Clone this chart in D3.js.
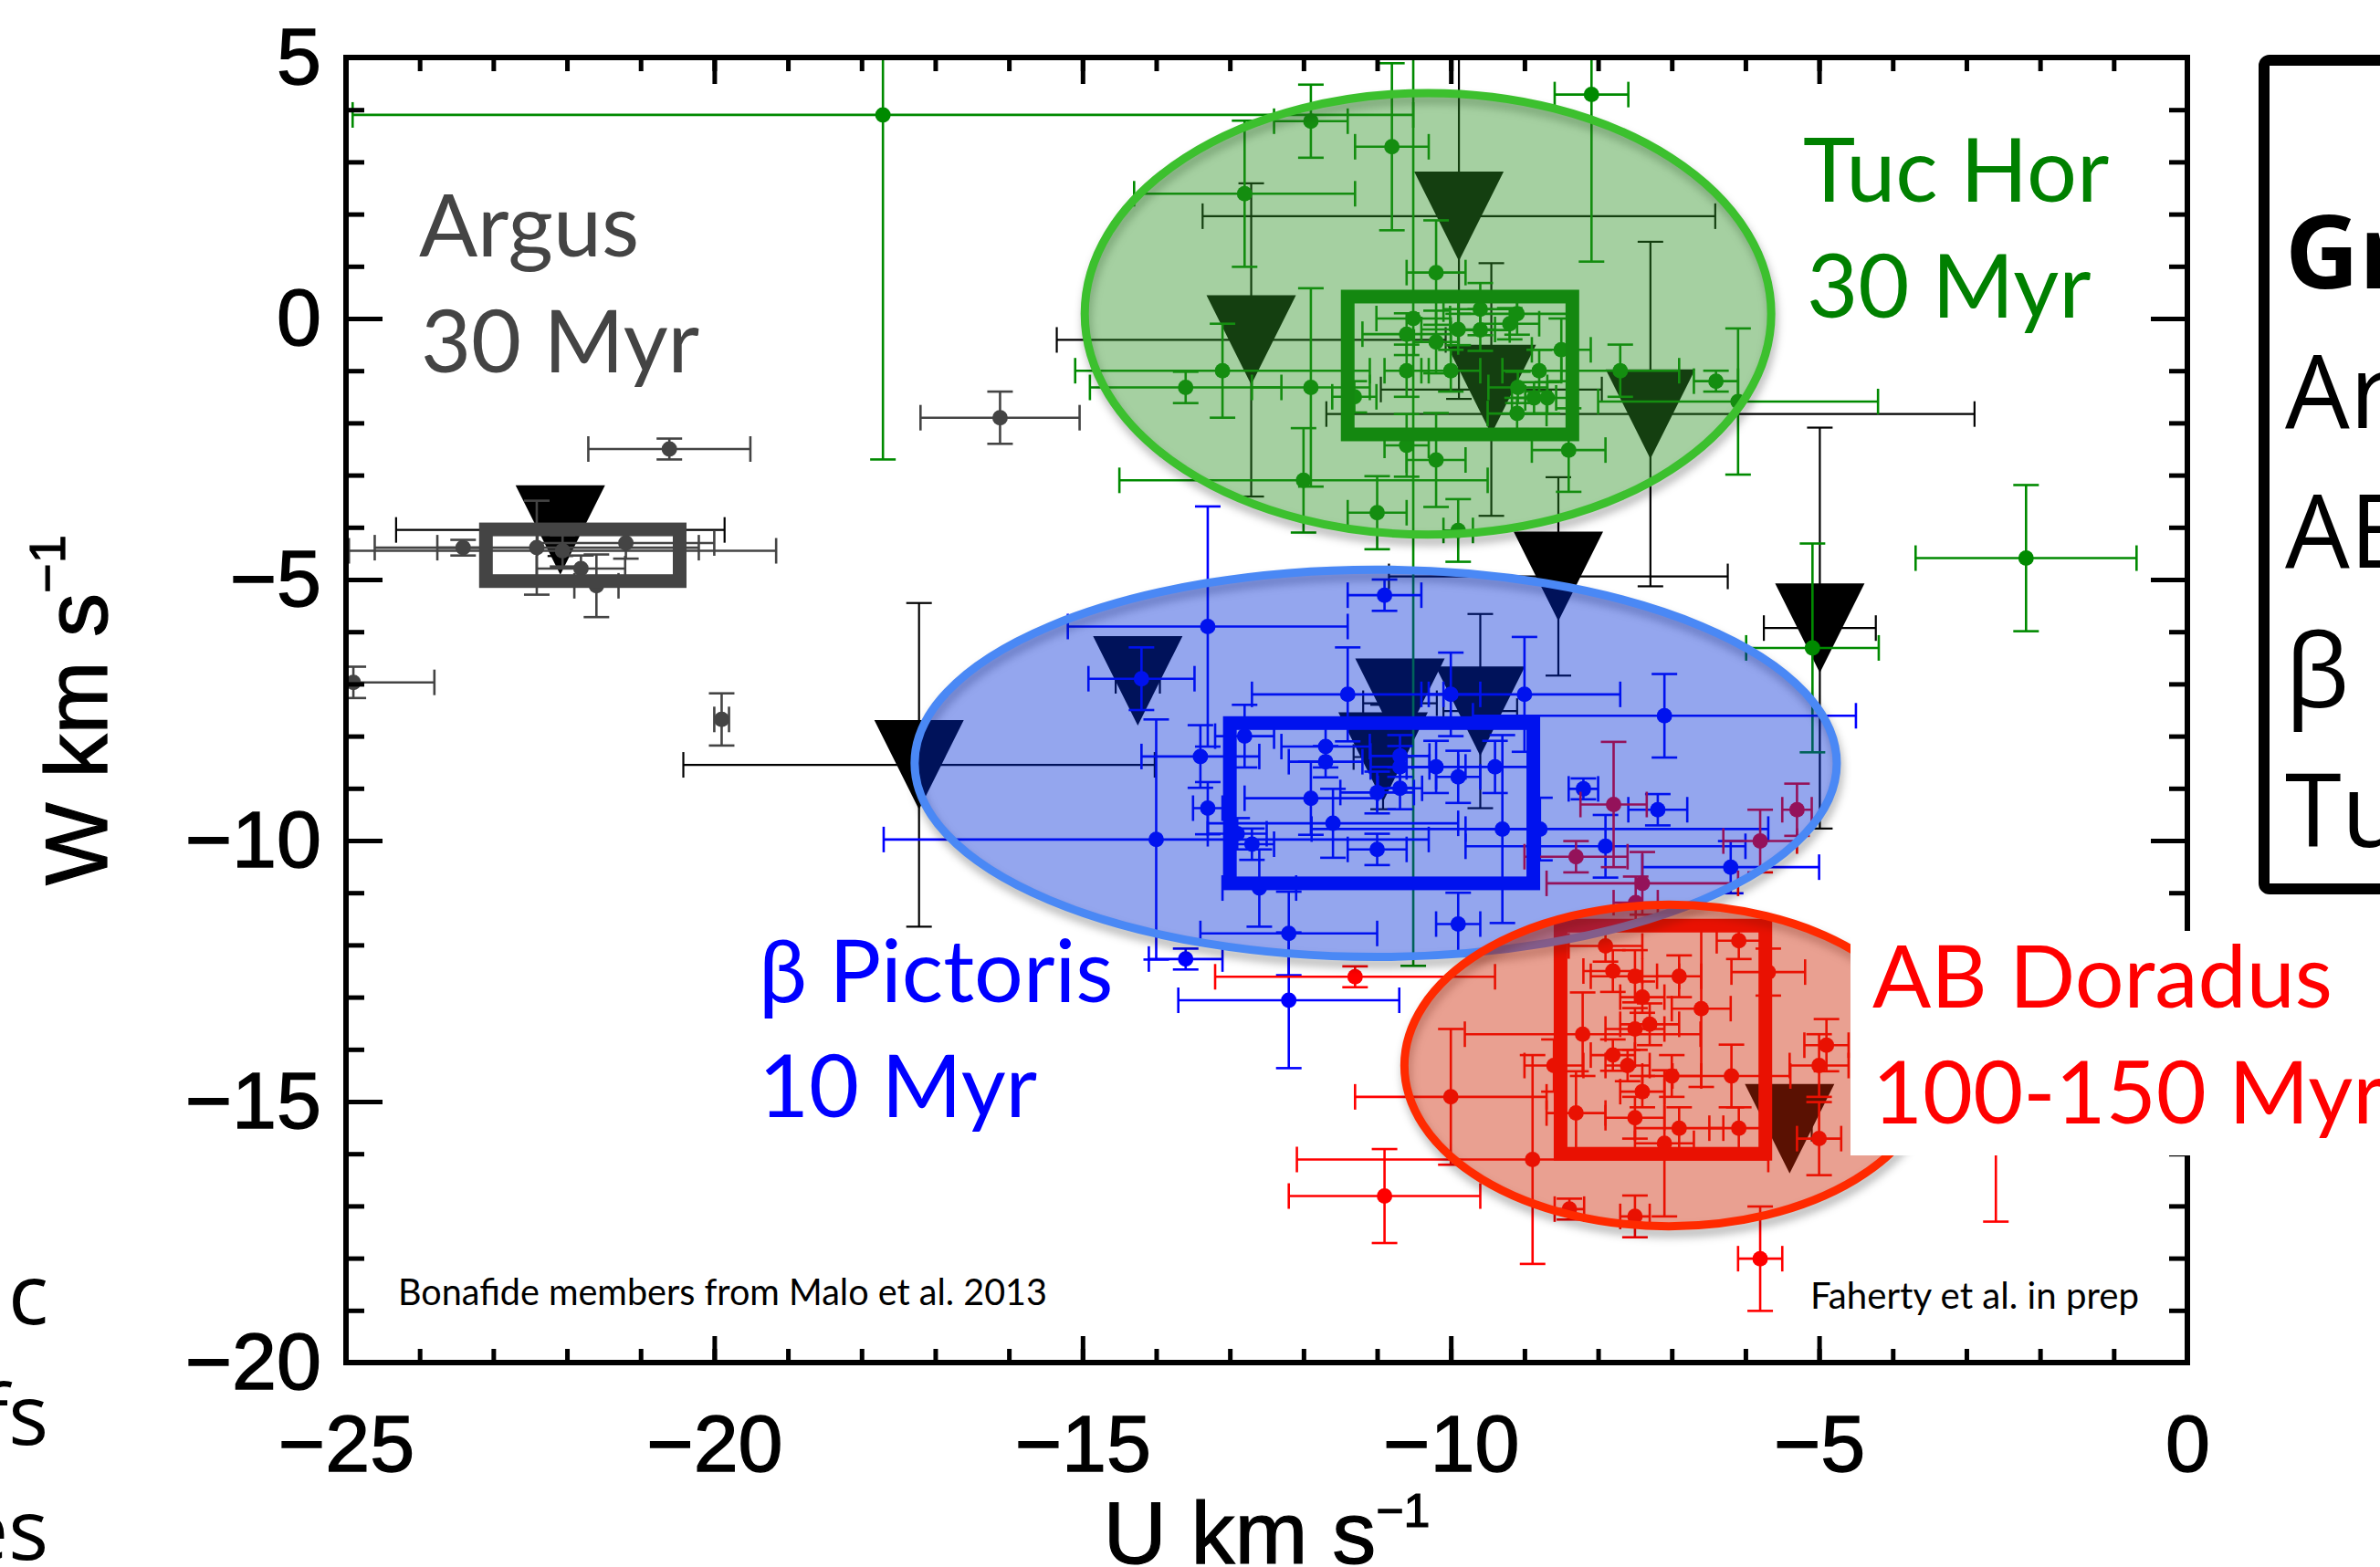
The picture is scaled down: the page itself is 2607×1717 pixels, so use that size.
<!DOCTYPE html>
<html>
<head>
<meta charset="utf-8">
<script src="https://cdn.jsdelivr.net/npm/d3@7"></script>
<style>
  html, body { margin: 0; padding: 0; background: #fff; overflow: hidden; }
  svg { display: block; }
</style>
</head>
<body>
<svg id="chart" width="2607" height="1717"></svg>
<script>
// Space velocities (U, W) of young moving-group members, km/s.
// Each row: [U, W, errU, errW]

const xDomain = [-25, 0];
const yDomain = [-20, 5];
const xMajorTicks = [-25, -20, -15, -10, -5, 0];
const xMinorTicks = [-25, -24, -23, -22, -21, -20, -19, -18, -17, -16, -15, -14, -13,
                     -12, -11, -10, -9, -8, -7, -6, -5, -4, -3, -2, -1, 0];
const yMajorTicks = [5, 0, -5, -10, -15, -20];
const yMinorTicks = [5, 4, 3, 2, 1, 0, -1, -2, -3, -4, -5, -6, -7, -8, -9, -10,
                     -11, -12, -13, -14, -15, -16, -17, -18, -19, -20];

// Argus bona fide members
const argusStars = [
  [-20.61, -2.50, 1.10, 0.20],
  [-23.41, -4.39, 0.35, 0.15],
  [-22.41, -4.39, 2.20, 0.90],
  [-22.06, -4.45, 2.90, 0.30],
  [-21.81, -4.79, 0.60, 0.25],
  [-21.60, -5.12, 0.30, 0.60],
  [-21.20, -4.30, 1.20, 0.30],
  [-24.90, -6.97, 1.10, 0.30],
  [-19.90, -7.68, 0.10, 0.50],
  [-16.12, -1.90, 1.08, 0.50]
];

// Tucana-Horologium bona fide members
const tucHorStars = [
  [-17.71, 3.90, 7.20, 6.60],
  [-8.09, 4.29, 0.50, 3.20],
  [-11.90, 3.78, 0.50, 0.70],
  [-10.80, 3.29, 0.50, 1.60],
  [-12.80, 2.39, 1.50, 1.40],
  [-10.20, 0.88, 0.40, 1.00],
  [-13.10, -1.00, 2.00, 0.90],
  [-13.60, -1.32, 1.30, 0.30],
  [-11.90, -1.32, 0.80, 1.90],
  [-12.00, -3.10, 2.50, 1.00],
  [-11.00, -3.72, 0.40, 0.70],
  [-10.20, -2.71, 0.40, 0.90],
  [-10.60, -2.43, 0.30, 0.60],
  [-8.40, -2.52, 0.50, 0.80],
  [-9.90, -4.06, 0.20, 0.60],
  [-6.40, -1.20, 0.30, 0.20],
  [-6.10, -1.59, 1.90, 1.40],
  [-7.70, -1.00, 0.80, 0.50],
  [-8.50, -0.60, 0.40, 0.60],
  [-8.80, -1.00, 0.50, 0.40],
  [-8.87, -1.52, 0.30, 0.30],
  [-8.69, -1.52, 0.30, 0.30],
  [-9.09, -1.32, 0.40, 0.30],
  [-9.10, 0.09, 0.80, 0.40],
  [-9.60, 0.18, 0.50, 0.50],
  [-9.60, -0.22, 0.40, 0.40],
  [-9.90, -0.21, 0.50, 0.30],
  [-9.20, -0.10, 0.40, 0.30],
  [-10.51, 0.00, 0.50, 12.40],
  [-10.60, -0.30, 0.60, 0.40],
  [-10.20, -0.45, 0.30, 0.60],
  [-10.60, -1.00, 0.30, 0.50],
  [-10.00, -1.00, 0.40, 0.40],
  [-11.31, -1.50, 0.30, 0.30],
  [-9.10, -1.82, 0.40, 0.30],
  [-2.19, -4.59, 1.50, 1.40],
  [-5.09, -6.31, 0.90, 2.00]
];

// beta Pictoris bona fide members
const betaPicStars = [
  [-10.90, -5.30, 0.50, 0.30],
  [-13.30, -5.90, 1.90, 2.30],
  [-14.20, -6.90, 0.72, 0.60],
  [-11.40, -7.20, 1.30, 0.90],
  [-10.00, -7.20, 0.40, 0.80],
  [-9.00, -7.20, 1.30, 1.10],
  [-12.80, -8.00, 0.40, 0.60],
  [-11.70, -8.20, 0.60, 0.40],
  [-11.70, -8.49, 0.50, 0.30],
  [-13.40, -8.39, 0.80, 0.60],
  [-10.69, -8.38, 0.40, 0.40],
  [-10.69, -8.59, 0.40, 0.40],
  [-10.20, -8.59, 0.40, 0.50],
  [-9.90, -8.78, 0.30, 0.50],
  [-9.40, -8.59, 0.50, 0.50],
  [-13.30, -9.38, 0.20, 0.50],
  [-11.90, -9.19, 0.90, 0.70],
  [-11.00, -9.08, 0.50, 0.40],
  [-10.69, -9.00, 0.30, 0.40],
  [-14.00, -9.98, 3.70, 2.30],
  [-12.90, -9.87, 0.40, 0.30],
  [-12.70, -10.07, 0.30, 0.30],
  [-11.60, -9.67, 1.70, 0.66],
  [-11.00, -10.17, 0.40, 0.30],
  [-9.30, -9.78, 0.50, 1.80],
  [-8.79, -9.78, 3.10, 0.60],
  [-12.60, -10.91, 0.50, 0.74],
  [-12.20, -11.78, 1.20, 0.80],
  [-9.90, -11.60, 0.30, 0.60],
  [-13.60, -12.27, 0.50, 0.20],
  [-12.20, -13.06, 1.50, 1.30],
  [-7.10, -7.61, 2.60, 0.80],
  [-8.20, -9.01, 0.20, 0.20],
  [-7.19, -9.41, 0.40, 0.30],
  [-7.90, -10.11, 1.90, 0.60],
  [-6.20, -10.51, 1.20, 0.50]
];

// AB Doradus bona fide members
const abDorStars = [
  [-11.30, -12.61, 1.90, 0.20],
  [-10.00, -14.91, 1.30, 1.30],
  [-10.90, -16.81, 1.30, 0.90],
  [-8.89, -16.11, 3.20, 2.00],
  [-5.80, -18.01, 0.30, 1.00],
  [-7.50, -17.20, 0.20, 0.40],
  [-8.39, -17.06, 0.20, 0.20],
  [-7.50, -12.60, 0.60, 0.50],
  [-7.80, -12.50, 0.40, 0.40],
  [-6.90, -12.60, 0.30, 0.40],
  [-7.90, -12.02, 0.50, 0.30],
  [-6.09, -11.92, 0.30, 0.35],
  [-5.69, -12.52, 0.50, 0.45],
  [-7.40, -13.00, 0.30, 0.30],
  [-6.60, -13.22, 0.40, 1.50],
  [-7.30, -13.52, 0.40, 0.40],
  [-7.50, -13.61, 0.40, 0.40],
  [-8.21, -13.71, 1.60, 0.80],
  [-7.80, -14.11, 0.30, 0.30],
  [-7.60, -14.31, 0.30, 0.30],
  [-8.60, -14.31, 0.40, 0.50],
  [-7.00, -14.51, 0.40, 0.40],
  [-6.19, -14.51, 0.80, 0.60],
  [-7.40, -14.81, 0.30, 0.30],
  [-4.90, -13.92, 0.30, 0.50],
  [-5.00, -14.31, 0.40, 0.60],
  [-5.00, -15.71, 0.30, 0.70],
  [-8.30, -15.22, 0.40, 0.80],
  [-7.50, -15.31, 0.40, 0.40],
  [-6.90, -15.51, 0.60, 0.40],
  [-6.09, -15.51, 0.40, 0.40],
  [-7.10, -15.80, 0.40, 1.40],
  [-7.79, -9.31, 0.45, 1.20],
  [-8.30, -10.31, 0.70, 0.30],
  [-7.40, -10.82, 1.30, 0.60],
  [-7.49, -11.19, 0.30, 0.50],
  [-5.80, -10.01, 0.50, 0.60],
  [-5.30, -9.41, 0.20, 0.50],
  [-2.60, -14.80, 0.50, 2.50]
];

// New candidates (Faherty et al. in prep)
const candidateStars = [
  [-9.89, 1.96, 3.48, 3.50],
  [-12.71, -0.41, 2.64, 3.00],
  [-9.45, -1.36, 1.50, 2.42],
  [-7.29, -1.83, 4.40, 3.30],
  [-22.09, -4.05, 2.23, 0.50],
  [-8.54, -4.94, 2.30, 1.90],
  [-4.99, -5.93, 0.76, 3.84],
  [-14.25, -6.94, 0.30, 0.30],
  [-17.22, -8.55, 3.20, 3.10],
  [-10.69, -7.37, 0.50, 0.80],
  [-9.60, -7.52, 0.50, 1.86],
  [-10.92, -8.40, 0.40, 1.00],
  [-5.40, -15.52, 0.30, 0.30]
];

// Mean-velocity boxes: [Umin, Umax, Wmax, Wmin]
const argusBox  = [-23.10, -20.47, -4.04, -5.03];
const tucHorBox = [-11.40, -8.35, 0.42, -2.22];
const betaPicBox = [-13.00, -8.88, -7.75, -10.82];
const abDorBox  = [-8.51, -5.73, -11.63, -16.00];

// Group ellipses: [U centre, W centre, U semi-axis, W semi-axis]
const tucHorEllipse  = [-10.31, 0.09, 4.66, 4.23];
const betaPicEllipse = [-11.02, -8.52, 6.26, 3.71];
const abDorEllipse   = [-7.04, -14.31, 3.59, 3.08];

// ---------------------------------------------------------------
const PLOT = { left: 379, right: 2396, top: 63, bottom: 1493 };

const svg = d3.select("#chart");
const x = d3.scaleLinear().domain(xDomain).range([PLOT.left, PLOT.right]);
const y = d3.scaleLinear().domain(yDomain).range([PLOT.bottom, PLOT.top]);

const defs = svg.append("defs");
defs.append("clipPath").attr("id", "plotClip")
  .append("rect")
  .attr("x", PLOT.left).attr("y", PLOT.top)
  .attr("width", PLOT.right - PLOT.left).attr("height", PLOT.bottom - PLOT.top);
defs.append("filter").attr("id", "soft")
  .attr("x", "-20%").attr("y", "-20%").attr("width", "140%").attr("height", "140%")
  .append("feGaussianBlur").attr("stdDeviation", 5);

const plot = svg.append("g").attr("clip-path", "url(#plotClip)");

const CAP = 14;

function errorBars(layer, data, color, width) {
  const g = layer.append("g").attr("stroke", color).attr("stroke-width", width).attr("fill", "none");
  const row = g.selectAll("g").data(data).enter().append("g");
  // horizontal bar + caps
  row.append("line")
    .attr("x1", d => x(d[0] - d[2])).attr("x2", d => x(d[0] + d[2]))
    .attr("y1", d => y(d[1])).attr("y2", d => y(d[1]));
  row.append("line")
    .attr("x1", d => x(d[0] - d[2])).attr("x2", d => x(d[0] - d[2]))
    .attr("y1", d => y(d[1]) - CAP).attr("y2", d => y(d[1]) + CAP);
  row.append("line")
    .attr("x1", d => x(d[0] + d[2])).attr("x2", d => x(d[0] + d[2]))
    .attr("y1", d => y(d[1]) - CAP).attr("y2", d => y(d[1]) + CAP);
  // vertical bar + caps
  row.append("line")
    .attr("x1", d => x(d[0])).attr("x2", d => x(d[0]))
    .attr("y1", d => y(d[1] - d[3])).attr("y2", d => y(d[1] + d[3]));
  row.append("line")
    .attr("x1", d => x(d[0]) - CAP).attr("x2", d => x(d[0]) + CAP)
    .attr("y1", d => y(d[1] - d[3])).attr("y2", d => y(d[1] - d[3]));
  row.append("line")
    .attr("x1", d => x(d[0]) - CAP).attr("x2", d => x(d[0]) + CAP)
    .attr("y1", d => y(d[1] + d[3])).attr("y2", d => y(d[1] + d[3]));
}

function dots(layer, data, color) {
  layer.append("g").selectAll("circle").data(data).enter().append("circle")
    .attr("cx", d => x(d[0])).attr("cy", d => y(d[1]))
    .attr("r", 8.5).attr("fill", color);
}

// candidates: large downward triangles with black error bars
const TRI = 49;
errorBars(plot, candidateStars, "#000", 2.2);
plot.append("g").selectAll("path").data(candidateStars).enter().append("path")
  .attr("d", d => {
    const cx = x(d[0]), cy = y(d[1]);
    return `M${cx - TRI},${cy - TRI}L${cx + TRI},${cy - TRI}L${cx},${cy + TRI}Z`;
  })
  .attr("fill", "#000");

// bona fide members
const memberSets = [
  [argusStars, "#444444"],
  [tucHorStars, "#008a00"],
  [betaPicStars, "#0000ff"],
  [abDorStars, "#ff0000"]
];
memberSets.forEach(([data, color]) => {
  errorBars(plot, data, color, 2.6);
  dots(plot, data, color);
});

// mean-velocity boxes
function box(b, color) {
  plot.append("rect")
    .attr("x", x(b[0])).attr("y", y(b[2]))
    .attr("width", x(b[1]) - x(b[0])).attr("height", y(b[3]) - y(b[2]))
    .attr("fill", "none").attr("stroke", color).attr("stroke-width", 15);
}
box(argusBox, "#444444");
box(tucHorBox, "#008000");
box(betaPicBox, "#0000ff");
box(abDorBox, "#ff0000");

// translucent group ellipses
function groupEllipse(e, fill, alpha, stroke) {
  const cx = x(e[0]), cy = y(e[1]);
  const rx = x(e[0] + e[2]) - cx, ry = y(e[1] - e[3]) - cy;
  plot.append("ellipse")
    .attr("cx", cx + 2).attr("cy", cy + 7).attr("rx", rx).attr("ry", ry)
    .attr("fill", "none").attr("stroke", "rgba(0,0,0,0.28)").attr("stroke-width", 10)
    .attr("filter", "url(#soft)");
  plot.append("ellipse")
    .attr("cx", cx).attr("cy", cy).attr("rx", rx).attr("ry", ry)
    .attr("fill", fill).attr("fill-opacity", alpha)
    .attr("stroke", stroke).attr("stroke-width", 9);
}
groupEllipse(tucHorEllipse, "rgb(47,147,37)", 0.43, "#3cc02e");
groupEllipse(betaPicEllipse, "rgb(0,43,214)", 0.42, "#4a88f5");
groupEllipse(abDorEllipse, "rgb(205,39,5)", 0.44, "#ff2a00");

// ---------------------------------------------------------------
// axes: inward ticks on all four sides
const TICK_FONT = "'Liberation Sans', Arial, Helvetica, sans-serif";
function axisLayer(axis, tx, ty) {
  const g = svg.append("g").attr("transform", `translate(${tx},${ty})`).call(axis);
  g.select(".domain").remove();
  g.selectAll(".tick line").attr("stroke", "#000").attr("stroke-width", 5);
  g.attr("font-family", TICK_FONT).attr("font-size", 88);
  g.selectAll(".tick text").attr("fill", "#000")
    .attr("stroke", "#000").attr("stroke-width", 1.4);
  return g;
}
const fmt = d3.format("d");
axisLayer(d3.axisBottom(x).tickValues(xMinorTicks).tickSize(-15).tickFormat(""), 0, PLOT.bottom);
axisLayer(d3.axisBottom(x).tickValues(xMajorTicks).tickSize(-29).tickPadding(57).tickFormat(fmt), 0, PLOT.bottom);
axisLayer(d3.axisTop(x).tickValues(xMinorTicks).tickSize(-15).tickFormat(""), 0, PLOT.top);
axisLayer(d3.axisTop(x).tickValues(xMajorTicks).tickSize(-29).tickFormat(""), 0, PLOT.top);
axisLayer(d3.axisLeft(y).tickValues(yMinorTicks).tickSize(-20).tickFormat(""), PLOT.left, 0);
axisLayer(d3.axisLeft(y).tickValues(yMajorTicks).tickSize(-40).tickPadding(27).tickFormat(fmt), PLOT.left, 0);
axisLayer(d3.axisRight(y).tickValues(yMinorTicks).tickSize(-20).tickFormat(""), PLOT.right, 0);
axisLayer(d3.axisRight(y).tickValues(yMajorTicks).tickSize(-40).tickFormat(""), PLOT.right, 0);

svg.append("rect")
  .attr("x", PLOT.left).attr("y", PLOT.top)
  .attr("width", PLOT.right - PLOT.left).attr("height", PLOT.bottom - PLOT.top)
  .attr("fill", "none").attr("stroke", "#000").attr("stroke-width", 6);

// axis titles
const xt = svg.append("text")
  .attr("x", (PLOT.left + PLOT.right) / 2).attr("y", 1713)
  .attr("text-anchor", "middle")
  .attr("font-family", TICK_FONT).attr("font-size", 96).attr("fill", "#000")
  .attr("stroke", "#000").attr("stroke-width", 1.2);
xt.append("tspan").text("U km s");
xt.append("tspan").attr("font-size", 52).attr("dy", -40).text("−1");

const yt = svg.append("text")
  .attr("transform", `translate(117,${(PLOT.top + PLOT.bottom) / 2}) rotate(-90)`)
  .attr("text-anchor", "middle")
  .attr("font-family", TICK_FONT).attr("font-size", 96).attr("fill", "#000")
  .attr("stroke", "#000").attr("stroke-width", 1.2);
yt.append("tspan").text("W km s");
yt.append("tspan").attr("font-size", 56).attr("dy", -46).text("−1");

// ---------------------------------------------------------------
// group labels
const LABEL_FONT = "Lato, 'Open Sans', 'Noto Sans', sans-serif";
function label(txt, lx, ly, color, size) {
  svg.append("text").attr("x", lx).attr("y", ly)
    .attr("font-family", LABEL_FONT).attr("font-size", size || 95)
    .attr("fill", color).text(txt);
}
label("Argus", 459, 281, "#444444");
label("30 Myr", 461, 408, "#444444");
label("Tuc Hor", 1975, 221, "#008000", 97);
label("30 Myr", 1979, 348, "#008000", 97);
label("β Pictoris", 831, 1098, "#0000ff");
label("10 Myr", 831, 1224, "#0000ff");

// AB Doradus label sits on a white panel
svg.append("rect").attr("x", 2027).attr("y", 1020).attr("width", 600).attr("height", 246).attr("fill", "#fff");
label("AB Doradus", 2051, 1104, "#ff0000");
label("100-150 Myr", 2051, 1231, "#ff0000");

// source notes
svg.append("text").attr("x", 436).attr("y", 1430)
  .attr("font-family", LABEL_FONT).attr("font-size", 40).attr("fill", "#000")
  .attr("textLength", 711).attr("lengthAdjust", "spacingAndGlyphs")
  .text("Bonafide members from Malo et al. 2013");
svg.append("text").attr("x", 1983).attr("y", 1434)
  .attr("font-family", LABEL_FONT).attr("font-size", 40).attr("fill", "#000")
  .attr("textLength", 360).attr("lengthAdjust", "spacingAndGlyphs")
  .text("Faherty et al. in prep");

// ---------------------------------------------------------------
// group key panel at the right edge
const KEY_FONT = "'Open Sans', 'Noto Sans', sans-serif";
svg.append("rect").attr("x", 2480).attr("y", 66).attr("width", 300).attr("height", 908)
  .attr("rx", 6).attr("fill", "#fff").attr("stroke", "#000").attr("stroke-width", 12);
const keyLines = [
  ["Groups", 316, 700],
  ["Argus", 469, 400],
  ["AB Doradus", 622, 400],
  ["β Pictoris", 775, 400],
  ["Tuc Hor", 928, 400]
];
keyLines.forEach(([t, by, w]) => {
  svg.append("text").attr("x", 2503).attr("y", by)
    .attr("font-family", KEY_FONT).attr("font-size", 112).attr("font-weight", w)
    .attr("fill", "#000").text(t);
});

// text running in from the left edge
const sideLines = [["c", 1451], ["fs", 1583], ["es", 1709]];
sideLines.forEach(([t, by]) => {
  svg.append("text").attr("x", 53).attr("y", by).attr("text-anchor", "end")
    .attr("font-family", KEY_FONT).attr("font-size", 92).attr("fill", "#000").text(t);
});
</script>
</body>
</html>
